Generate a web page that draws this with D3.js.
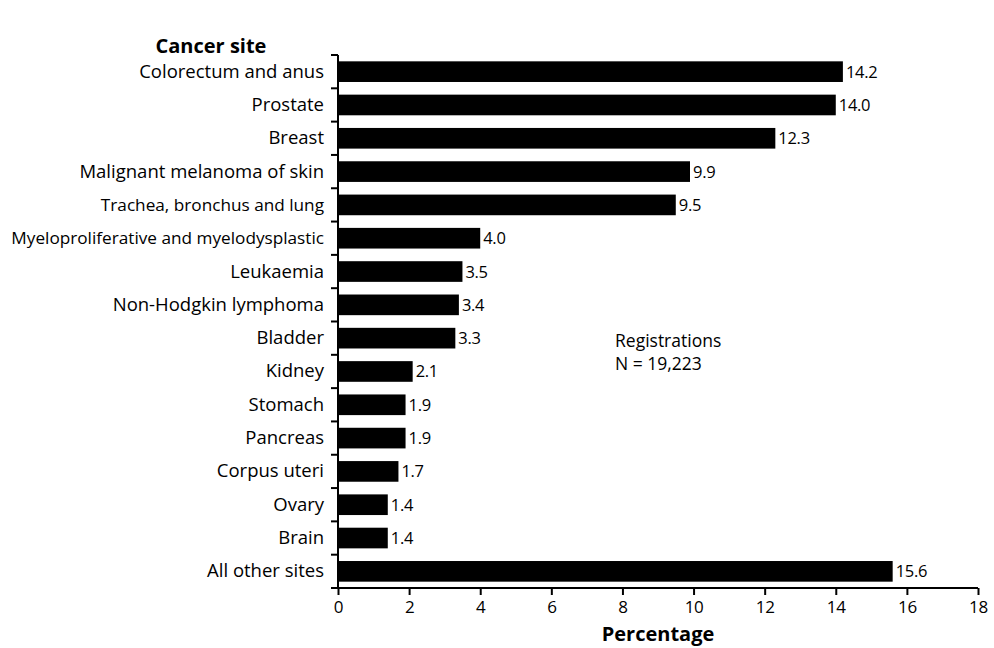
<!DOCTYPE html>
<html><head><meta charset="utf-8">
<script src="https://cdn.jsdelivr.net/npm/d3@7"></script>
<style>body{margin:0;background:#fff;} text{font-family:"Open Sans","Noto Sans",sans-serif;fill:#000;}</style>
</head><body>
<svg id="chart" width="994" height="648"></svg>
<script>
const categories = ["Colorectum and anus","Prostate","Breast","Malignant melanoma of skin","Trachea, bronchus and lung","Myeloproliferative and myelodysplastic","Leukaemia","Non-Hodgkin lymphoma","Bladder","Kidney","Stomach","Pancreas","Corpus uteri","Ovary","Brain","All other sites"];
const values = [14.2,14.0,12.3,9.9,9.5,4.0,3.5,3.4,3.3,2.1,1.9,1.9,1.7,1.4,1.4,15.6];
const xTicks = [0,2,4,6,8,10,12,14,16,18];
const smallLabels = ["Trachea, bronchus and lung","Myeloproliferative and myelodysplastic"];
const noteLines = ["Registrations","N = 19,223"];

const svg = d3.select("#chart");
const m = {left:338, right:978, top:55, bottom:588};
const x = d3.scaleLinear().domain([0,18]).range([m.left,m.right]);
const y = d3.scaleBand().domain(categories).range([m.top,m.bottom]).paddingInner(0.38).paddingOuter(0.19);
const step = (m.bottom-m.top)/categories.length;

// bars
svg.selectAll("rect.bar").data(categories).join("rect")
  .attr("x", x(0)).attr("y", d=>y(d))
  .attr("width", (d,i)=>x(values[i])-x(0)).attr("height", y.bandwidth()).attr("fill","#000");

// value labels
svg.selectAll("text.val").data(categories).join("text")
  .attr("x",(d,i)=>x(values[i])+3).attr("y",d=>y(d)+y.bandwidth()/2+6)
  .attr("font-size",16.5).attr("letter-spacing",-0.3).text((d,i)=>values[i].toFixed(1));

// category labels
svg.selectAll("text.cat").data(categories).join("text")
  .attr("x",324).attr("y",d=>y(d)+y.bandwidth()/2+6)
  .attr("text-anchor","end")
  .attr("font-size",d=>smallLabels.includes(d)?17.2:18.5)
  .text(d=>d);

// y axis line and boundary ticks
svg.append("line").attr("x1",m.left).attr("x2",m.left).attr("y1",m.top).attr("y2",m.bottom)
  .attr("stroke","#000").attr("stroke-width",2);
const bounds = d3.range(categories.length+1).map(i=>m.top+i*step);
svg.selectAll("line.yt").data(bounds).join("line")
  .attr("x1",331).attr("x2",m.left).attr("y1",d=>d).attr("y2",d=>d)
  .attr("stroke","#000").attr("stroke-width",2);

// x axis
const xAxis = d3.axisBottom(x).tickValues(xTicks).tickSize(7).tickSizeOuter(0).tickFormat(d3.format("d"));
const gx = svg.append("g").attr("transform",`translate(0,${m.bottom})`).call(xAxis);
gx.select(".domain").attr("stroke-width",2).attr("d",`M${331},0H${m.right}`);
gx.selectAll(".tick line").attr("stroke-width",2);
gx.selectAll(".tick text").attr("font-size",17).attr("font-family","'Open Sans','Noto Sans',sans-serif").attr("dy","0.9em").attr("letter-spacing",-0.3);

// titles
svg.append("text").attr("x",211).attr("y",53).attr("text-anchor","middle")
  .attr("font-size",20).attr("font-weight","bold").text("Cancer site");
svg.append("text").attr("x",658).attr("y",641).attr("text-anchor","middle")
  .attr("font-size",20).attr("font-weight","bold").text("Percentage");

svg.selectAll("text.note").data(noteLines).join("text")
  .attr("x",615).attr("y",(d,i)=>347+i*23).attr("font-size",17.5).text(d=>d);
</script>
</body></html>
